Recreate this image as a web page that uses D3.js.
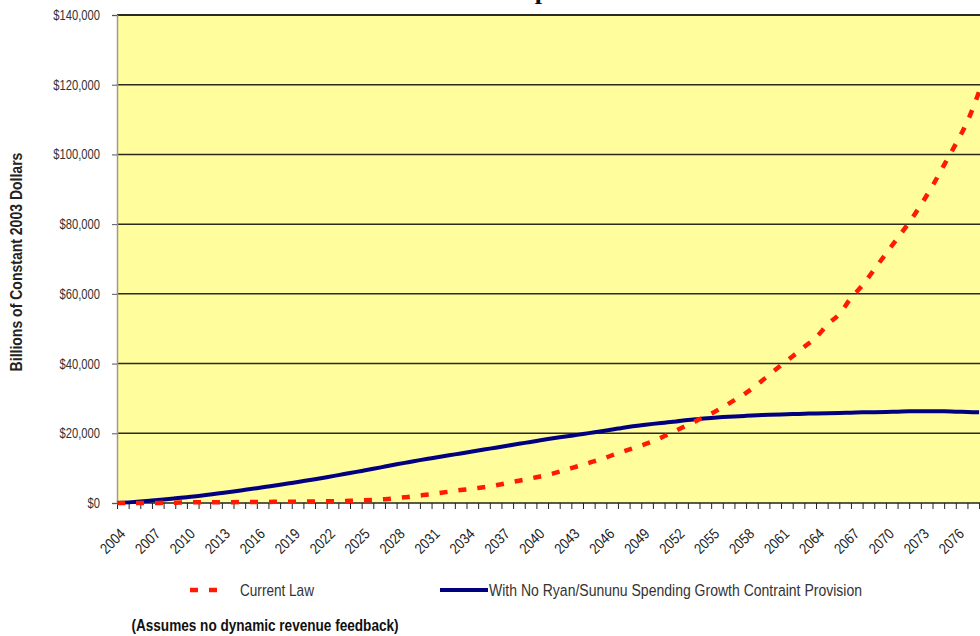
<!DOCTYPE html>
<html>
<head>
<meta charset="utf-8">
<script src="https://cdn.jsdelivr.net/npm/d3@7/dist/d3.min.js"></script>
<style>
  html, body { margin: 0; padding: 0; background: #fff; }
  svg { display: block; overflow: hidden; font-family: "Liberation Sans", Arial, sans-serif; }
</style>
</head>
<body>
<svg id="chart" width="980" height="636"></svg>
<script>
// Years on the category axis
const years = d3.range(2004, 2079);

// Tick labels shown on the x axis (every third year)
const yearLabels = d3.range(2004, 2079, 3);

// Y axis ticks, billions of constant 2003 dollars
const yTicks = [0, 20000, 40000, 60000, 80000, 100000, 120000, 140000];

// Current Law
const currentLaw = [
  0, 0, 0, 0, 50, 100, 150, 200, 200, 250,          // 2004-2013
  250, 300, 300, 300, 350, 350, 400, 450, 500, 550, // 2014-2023
  650, 750, 900, 1100, 1400, 1750, 2150, 2550, 3000, 3500, // 2024-2033
  3900, 4300, 4800, 5400, 6100, 6700, 7400, 8100, 9000, 10000, // 2034-2043
  11000, 12000, 13100, 14300, 15400, 16500, 17700, 19200, 20800, 22400, // 2044-2053
  24000, 25600, 27500, 29500, 31600, 34100, 36800, 39500, 42100, 44800, // 2054-2063
  47500, 51200, 54200, 58800, 62500, 67000, 71500, 76000, 80500, 85500, // 2064-2073
  91000, 97000, 103000, 109500, 118000                // 2074-2078
];

// With No Ryan/Sununu Spending Growth Contraint Provision
const noConstraint = [
  0, 180, 420, 700, 1000, 1330, 1680, 2040, 2450, 2880,        // 2004-2013
  3320, 3780, 4250, 4740, 5240, 5760, 6290, 6830, 7400, 8000,  // 2014-2023
  8600, 9200, 9800, 10450, 11100, 11700, 12300, 12850, 13400, 13950, // 2024-2033
  14500, 15050, 15600, 16150, 16700, 17250, 17800, 18350, 18850, 19300, // 2034-2043
  19800, 20300, 20800, 21350, 21900, 22300, 22700, 23050, 23400, 23800, // 2044-2053
  24100, 24400, 24650, 24850, 25000, 25150, 25300, 25400, 25500, 25600, // 2054-2063
  25700, 25750, 25800, 25900, 26000, 26050, 26100, 26200, 26300, 26350, // 2064-2073
  26350, 26300, 26200, 26100, 26000                             // 2074-2078
];

const svg = d3.select("#chart");

// Horizontal squeeze that gives the labels a condensed face
const NARROW = 0.8;

const plot = { left: 117, top: 15, bottom: 503, step: 11.65 };

const x = d3.scalePoint()
  .domain(years)
  .range([plot.left, plot.left + plot.step * (years.length - 1)]);

const y = d3.scaleLinear()
  .domain([0, 140000])
  .range([plot.bottom, plot.top]);

// Plot background
svg.append("rect")
  .attr("x", plot.left)
  .attr("y", plot.top)
  .attr("width", x.range()[1] - plot.left + 2)
  .attr("height", plot.bottom - plot.top)
  .attr("fill", "#FFFD9C");

// Horizontal gridlines
svg.append("g")
  .selectAll("line")
  .data(yTicks.filter(d => d > 0))
  .join("line")
  .attr("x1", plot.left)
  .attr("x2", x.range()[1] + 2)
  .attr("y1", d => y(d))
  .attr("y2", d => y(d))
  .attr("stroke", "#2b2b1e")
  .attr("stroke-width", d => d === 140000 ? 2.2 : 1.5);

// Y axis
const yAxis = svg.append("g")
  .attr("transform", `translate(${plot.left},0)`)
  .call(d3.axisLeft(y)
    .tickValues(yTicks)
    .tickSize(5)
    .tickPadding(0)
    .tickFormat(d => "$" + d3.format(",")(d)));
yAxis.select(".domain").attr("stroke", "#9a9a9a").attr("stroke-width", 1.5);
yAxis.selectAll(".tick line").attr("stroke", "#555");
yAxis.selectAll(".tick text")
  .attr("x", 0)
  .attr("font-size", 14)
  .attr("fill", "#333")
  .attr("font-family", null)
  .attr("transform", `translate(-17,0) scale(${NARROW},1)`);

// X axis: a tick at every year, labels every third year
const xAxis = svg.append("g")
  .attr("transform", `translate(0,${plot.bottom})`)
  .call(d3.axisBottom(x)
    .tickValues(years)
    .tickSize(6)
    .tickSizeOuter(0)
    .tickFormat(d => yearLabels.includes(d) ? String(d) : ""));
xAxis.select(".domain")
  .attr("stroke", "#222")
  .attr("stroke-width", 1.5)
  .attr("d", `M${plot.left},0H${x.range()[1] + 2}`);
xAxis.selectAll(".tick line").attr("stroke", "#222");
xAxis.selectAll(".tick text")
  .attr("font-size", 15)
  .attr("fill", "#222")
  .attr("font-family", null)
  .attr("text-anchor", "end")
  .attr("transform", `translate(5,28) rotate(-45) scale(${NARROW + 0.05},1)`)
  .attr("y", 0)
  .attr("dy", "0.35em");

// Series lines
const line = d3.line()
  .x((d, i) => x(years[i]))
  .y(d => y(d))
  .curve(d3.curveMonotoneX);

svg.append("path")
  .datum(noConstraint)
  .attr("fill", "none")
  .attr("stroke", "#000080")
  .attr("stroke-width", 4)
  .attr("d", line);

svg.append("path")
  .datum(currentLaw)
  .attr("fill", "none")
  .attr("stroke", "#ff1a00")
  .attr("stroke-width", 4.5)
  .attr("stroke-dasharray", "8,11")
  .attr("d", line);

// Y axis title
svg.append("text")
  .attr("transform", `translate(22,262) rotate(-90) scale(${NARROW + 0.05},1)`)
  .attr("text-anchor", "middle")
  .attr("font-size", 16.5)
  .attr("font-weight", "bold")
  .attr("fill", "#222")
  .text("Billions of Constant 2003 Dollars");

// Title (runs off the top of the page)
svg.append("text")
  .attr("x", 542)
  .attr("y", -1)
  .attr("text-anchor", "middle")
  .attr("font-family", "'Liberation Serif', 'Times New Roman', serif")
  .attr("font-weight", "bold")
  .attr("font-size", 26)
  .attr("fill", "#111")
  .text("p");

// Legend
const legend = svg.append("g");
legend.append("line")
  .attr("x1", 190).attr("x2", 217)
  .attr("y1", 590).attr("y2", 590)
  .attr("stroke", "#ff1a00")
  .attr("stroke-width", 4.5)
  .attr("stroke-dasharray", "8,11");
legend.append("text")
  .attr("transform", `translate(240,590) scale(${NARROW + 0.05},1)`)
  .attr("dy", "0.35em")
  .attr("font-size", 16)
  .attr("fill", "#333")
  .text("Current Law");
legend.append("line")
  .attr("x1", 440).attr("x2", 488)
  .attr("y1", 590).attr("y2", 590)
  .attr("stroke", "#000080")
  .attr("stroke-width", 4);
legend.append("text")
  .attr("transform", `translate(489,590) scale(${NARROW + 0.05},1)`)
  .attr("dy", "0.35em")
  .attr("font-size", 16.5)
  .attr("fill", "#333")
  .text("With No Ryan/Sununu Spending Growth Contraint Provision");

// Footnote
svg.append("text")
  .attr("transform", `translate(265,625) scale(${NARROW + 0.05},1)`)
  .attr("dy", "0.35em")
  .attr("text-anchor", "middle")
  .attr("font-size", 16)
  .attr("font-weight", "bold")
  .attr("fill", "#111")
  .text("(Assumes no dynamic revenue feedback)");
</script>
</body>
</html>
